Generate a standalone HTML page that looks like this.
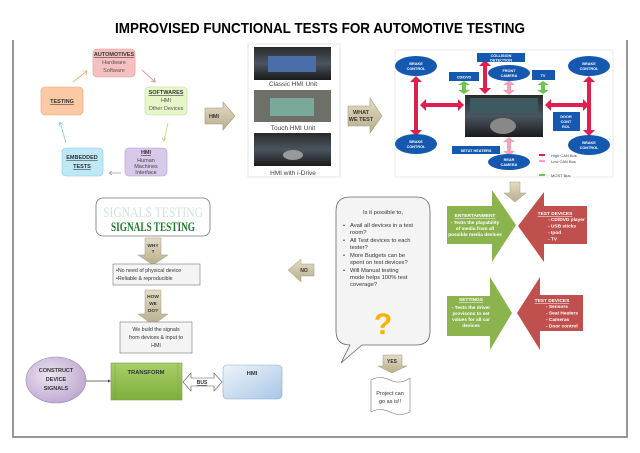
<!DOCTYPE html>
<html><head><meta charset="utf-8"><style>
body{margin:0;background:#fff;}
svg{display:block;font-family:"Liberation Sans",sans-serif;}
</style></head><body>
<svg width="640" height="453" viewBox="0 0 640 453" xmlns="http://www.w3.org/2000/svg">
<defs>
<linearGradient id="img" x1="0" y1="0" x2="0" y2="1"><stop offset="0" stop-color="#2a2a2a"/><stop offset="0.5" stop-color="#4a5560"/><stop offset="1" stop-color="#1a1a1a"/></linearGradient>
<linearGradient id="tan" x1="0" y1="0" x2="0" y2="1"><stop offset="0" stop-color="#e4dcc4"/><stop offset="1" stop-color="#b8ad8c"/></linearGradient>
<linearGradient id="grn" x1="0" y1="0" x2="0" y2="1"><stop offset="0" stop-color="#a8cf6a"/><stop offset="1" stop-color="#7fae3c"/></linearGradient>
<linearGradient id="blu" x1="0" y1="0" x2="1" y2="1"><stop offset="0" stop-color="#eef4fb"/><stop offset="1" stop-color="#a9c6e6"/></linearGradient>
<radialGradient id="pur" cx="0.4" cy="0.4" r="0.7"><stop offset="0" stop-color="#ece4f2"/><stop offset="1" stop-color="#b9a3cc"/></radialGradient>
</defs>
<!-- frame -->
<path d="M13 40 V437 H627 V40" fill="none" stroke="#777" stroke-width="1.5"/>
<text x="320" y="33" text-anchor="middle" font-weight="bold" font-size="15" textLength="410" lengthAdjust="spacingAndGlyphs">IMPROVISED FUNCTIONAL TESTS FOR AUTOMOTIVE TESTING</text>

<!-- cycle -->
<g font-size="5.5" text-anchor="middle">
<rect x="93" y="49" width="42" height="28" rx="4" fill="#f6c0c0" stroke="#e09898" stroke-width="0.6"/>
<text x="114" y="56" font-weight="bold" text-decoration="underline" fill="#333">AUTOMOTIVES</text>
<text x="114" y="64" fill="#555">Hardware</text><text x="114" y="72" fill="#555">Software</text>
<rect x="145" y="87" width="42" height="28" rx="4" fill="#e6f6c8" stroke="#c0dc98" stroke-width="0.6"/>
<text x="166" y="94" font-weight="bold" text-decoration="underline" fill="#333">SOFTWARES</text>
<text x="166" y="102" fill="#555">HMI</text><text x="166" y="110" fill="#555">Other Devices</text>
<rect x="41" y="87" width="42" height="28" rx="4" fill="#fbcaa4" stroke="#e6a478" stroke-width="0.6"/>
<text x="62" y="103" font-weight="bold" text-decoration="underline" fill="#333">TESTING</text>
<rect x="62" y="148" width="41" height="28" rx="4" fill="#bfe8f6" stroke="#88c8e0" stroke-width="0.6"/>
<text x="82" y="159" font-weight="bold" text-decoration="underline" fill="#333">EMBEDDED</text>
<text x="82" y="168" font-weight="bold" text-decoration="underline" fill="#333">TESTS</text>
<rect x="125" y="148" width="42" height="28" rx="4" fill="#d8c8ea" stroke="#b4a0d0" stroke-width="0.6"/>
<text x="146" y="154" font-weight="bold" text-decoration="underline" fill="#333">HMI</text>
<text x="146" y="162" fill="#444">Human</text><text x="146" y="168" fill="#444">Machines</text><text x="146" y="174" fill="#444">Interface</text>
</g>
<g stroke-width="0.8" fill="none">
<path d="M142 70 L155 82" stroke="#e07a7a"/><path d="M155 82 l-4 -0.5 M155 82 l-0.5 -4" stroke="#e07a7a"/>
<path d="M168 123 L164 141" stroke="#b8d878"/><path d="M164 141 l-2 -3 M164 141 l2 -3" stroke="#b8d878"/>
<path d="M121 173 L109 173" stroke="#a898d0"/><path d="M109 173 l3 -2 M109 173 l3 2" stroke="#a898d0"/>
<path d="M66 143 L60 122" stroke="#88c8e0"/><path d="M60 122 l-1 4 M60 122 l3 3" stroke="#88c8e0"/>
<path d="M73 82 L87 71" stroke="#f0a870"/><path d="M87 71 l-4 0 M87 71 l-1 4" stroke="#f0a870"/>
</g>

<!-- HMI arrow -->
<path d="M205 108 H223 V102 L235 116 L223 130 V124 H205 Z" fill="url(#tan)" stroke="#a09880" stroke-width="0.6"/>
<text x="214" y="118" font-size="5.5" font-weight="bold" text-anchor="middle" fill="#333">HMI</text>

<!-- HMI images panel -->
<rect x="248" y="44" width="92" height="133" fill="#fff" stroke="#e4e4e4"/>
<rect x="254" y="47" width="77" height="33" fill="url(#img)"/>
<rect x="268" y="56" width="48" height="16" fill="#4a6ea8"/>
<text x="293" y="86" font-size="6.5" text-anchor="middle" fill="#444">Classic HMI Unit</text>
<rect x="254" y="90" width="77" height="32" fill="#6c7068"/>
<rect x="270" y="98" width="44" height="18" fill="#7aa89a"/>
<text x="293" y="130" font-size="6.5" text-anchor="middle" fill="#444">Touch HMI Unit</text>
<rect x="254" y="133" width="77" height="33" fill="url(#img)"/>
<ellipse cx="293" cy="155" rx="10" ry="5" fill="#999"/>
<text x="293" y="175" font-size="6.5" text-anchor="middle" fill="#444">HMI with i-Drive</text>

<!-- WHAT WE TEST arrow -->
<path d="M348 106 H370 V98 L382 116 L370 133 V126 H348 Z" fill="url(#tan)" stroke="#a09880" stroke-width="0.6"/>
<text x="361" y="114" font-size="5.5" font-weight="bold" text-anchor="middle" fill="#333">WHAT</text>
<text x="361" y="121" font-size="5.5" font-weight="bold" text-anchor="middle" fill="#333">WE TEST</text>

<!-- car network panel -->
<rect x="395" y="50" width="218" height="127" fill="#fff" stroke="#e8e8e8"/>
<rect x="465" y="95" width="78" height="42" fill="url(#img)"/>
<rect x="470" y="98" width="68" height="15" fill="#3c5a60"/>
<ellipse cx="503" cy="126" rx="13" ry="8" fill="#888"/>
<g fill="#e01f4f">
<rect x="414" y="82" width="4" height="48"/><path d="M410 82 L416 76 L422 82 Z M410 130 L416 136 L422 130 Z"/>
<rect x="587" y="82" width="4" height="48"/><path d="M583 82 L589 76 L595 82 Z M583 130 L589 136 L595 130 Z"/>
<rect x="426" y="103" width="32" height="4"/><path d="M426 99 L420 105 L426 111 Z M458 99 L464 105 L458 111 Z"/>
<rect x="551" y="103" width="32" height="4"/><path d="M551 99 L545 105 L551 111 Z M583 99 L589 105 L583 111 Z"/>
<rect x="483" y="64" width="4" height="25"/><path d="M479 66 L485 60 L491 66 Z M479 88 L485 94 L491 88 Z"/>
<rect x="539" y="154" width="6" height="2"/>
</g>
<g fill="#f4a0b8">
<rect x="507" y="84" width="4" height="7"/><path d="M503 85 L509 80 L515 85 Z M503 90 L509 95 L515 90 Z"/>
<rect x="507" y="141" width="4" height="11"/><path d="M503 142 L509 137 L515 142 Z M503 151 L509 156 L515 151 Z"/>
<rect x="539" y="160" width="6" height="2"/>
</g>
<g fill="#6cc84a">
<rect x="462" y="84" width="4" height="7"/><path d="M458 85 L464 81 L470 85 Z M458 90 L464 94 L470 90 Z"/>
<rect x="541" y="84" width="4" height="7"/><path d="M537 85 L543 81 L549 85 Z M537 90 L543 94 L549 90 Z"/>
<rect x="539" y="174" width="6" height="2"/>
</g>
<g fill="#1558b0">
<ellipse cx="416" cy="66" rx="21" ry="10"/><ellipse cx="589" cy="66" rx="21" ry="10"/>
<ellipse cx="416" cy="144" rx="21" ry="10"/><ellipse cx="589" cy="145" rx="21" ry="10"/>
<ellipse cx="509" cy="73" rx="21" ry="8"/><ellipse cx="509" cy="162" rx="21" ry="8"/>
<rect x="477" y="53" width="48" height="9"/><rect x="449" y="72" width="30" height="9"/>
<rect x="532" y="70" width="23" height="10"/><rect x="553" y="112" width="27" height="19"/>
<rect x="452" y="146" width="48" height="8"/>
</g>
<g fill="#fff" font-size="3.8" font-weight="bold" text-anchor="middle">
<text x="416" y="65">BRAKE</text><text x="416" y="70">CONTROL</text>
<text x="589" y="65">BRAKE</text><text x="589" y="70">CONTROL</text>
<text x="416" y="143">BRAKE</text><text x="416" y="148">CONTROL</text>
<text x="589" y="144">BRAKE</text><text x="589" y="149">CONTROL</text>
<text x="501" y="57">COLLISION</text><text x="501" y="61.5">DETECTION</text>
<text x="509" y="72">FRONT</text><text x="509" y="77">CAMERA</text>
<text x="509" y="161">REAR</text><text x="509" y="166">CAMERA</text>
<text x="464" y="78.5">CD/DVD</text><text x="543" y="77">TV</text>
<text x="566" y="118">DOOR</text><text x="566" y="123">CONT</text><text x="566" y="128">ROL</text>
<text x="476" y="152">SETAT HEATERS</text>
<text x="441" y="103">BUS</text><text x="567" y="103">BUS</text>
</g>
<g font-size="4" fill="#444"><text x="551" y="157">High CAN Bus</text><text x="551" y="163">Low CAN Bus</text><text x="551" y="177">MOST Bus</text></g>

<!-- down arrow -->
<path d="M510 182 H520 V193 H526 L515 202 L504 193 H510 Z" fill="url(#tan)" stroke="#a09880" stroke-width="0.5"/>

<!-- green/red arrows -->
<path d="M447 206 H492 V190 L516 225 L492 262 V244 H447 Z" fill="#8cb44e"/>
<path d="M587 206 H544 V192 L518 226 L544 262 V244 H587 Z" fill="#c0504d"/>
<path d="M447 296 H490 V277 L512 313 L490 350 V336 H447 Z" fill="#8cb44e"/>
<path d="M583 295 H540 V277 L517 313 L540 350 V331 H583 Z" fill="#c0504d"/>
<g fill="#fff" font-size="4.8" font-weight="bold">
<g text-anchor="middle">
<text x="475" y="217" text-decoration="underline">ENTERTAINMENT</text>
<text x="475" y="224">- Tests the playability</text><text x="475" y="230">of media from all</text><text x="475" y="236">possible media devices</text>
<text x="471" y="301" text-decoration="underline">SETTINGS</text>
<text x="471" y="309">- Tests the driver</text><text x="471" y="315">provisons to set</text><text x="471" y="321">values for all car</text><text x="471" y="327">devices</text>
<text x="555" y="215" text-decoration="underline">TEST DEVICES</text>
<text x="552" y="302" text-decoration="underline">TEST DEVICES</text>
</g>
<text x="548" y="221">- CD/DVD player</text><text x="548" y="227.5">- USB sticks</text><text x="548" y="234">- Ipod</text><text x="548" y="240.5">- TV</text>
<text x="546" y="308">- Sensors</text><text x="546" y="314.5">- Seat Heaters</text><text x="546" y="321">- Cameras</text><text x="546" y="327.5">- Door control</text>
</g>

<!-- speech bubble -->
<path d="M350 197 H416 Q430 197 430 211 V331 Q430 345 416 345 H362 L341 363 L350 345 Q336 345 336 331 V211 Q336 197 350 197 Z" fill="#f4f4f4" stroke="#666" stroke-width="0.8"/>
<g font-size="5.8" fill="#333">
<text x="383" y="214" text-anchor="middle">Is it possible to,</text>
<text x="343" y="227">•</text><text x="350" y="227">Avail all devices in a test</text><text x="350" y="234">room?</text>
<text x="343" y="242">•</text><text x="350" y="242">All Test devices to each</text><text x="350" y="249">tester?</text>
<text x="343" y="257">•</text><text x="350" y="257">More Budgets can be</text><text x="350" y="264">spent on test devices?</text>
<text x="343" y="272">•</text><text x="350" y="272">Will Manual testing</text><text x="350" y="279">mode helps 100% test</text><text x="350" y="286">coverage?</text>
</g>
<text x="383" y="334" font-size="30" font-weight="bold" fill="#f5b400" text-anchor="middle">?</text>

<!-- NO arrow -->
<path d="M314 264 H301 V259 L288 270 L301 282 V276 H314 Z" fill="url(#tan)" stroke="#a09880" stroke-width="0.5"/>
<text x="304" y="272" font-size="5" font-weight="bold" text-anchor="middle" fill="#333">NO</text>
<!-- YES arrow -->
<path d="M383 355 H402 V366 H407 L392 373 L378 366 H383 Z" fill="url(#tan)" stroke="#a09880" stroke-width="0.5"/>
<text x="392" y="363" font-size="5" font-weight="bold" text-anchor="middle" fill="#333">YES</text>
<!-- document -->
<path d="M371 380 Q380 375 390 380 T410 378 V412 Q400 417 390 412 T371 412 Z" fill="#fff" stroke="#777" stroke-width="0.6"/>
<text x="390" y="395" font-size="5.5" text-anchor="middle" fill="#333">Project can</text>
<text x="390" y="403" font-size="5.5" text-anchor="middle" fill="#333">go as is!!</text>

<!-- signals testing -->
<rect x="96" y="198" width="114" height="38" rx="7" fill="#fff" stroke="#777" stroke-width="0.8"/>
<text x="153" y="217" font-family="'Liberation Serif',serif" font-size="15" fill="#d0e4dc" text-anchor="middle" textLength="100" lengthAdjust="spacingAndGlyphs">SIGNALS TESTING</text>
<text x="153" y="231" font-family="'Liberation Serif',serif" font-size="13" font-weight="bold" fill="#1a7a2a" text-anchor="middle" textLength="84" lengthAdjust="spacingAndGlyphs">SIGNALS TESTING</text>
<path d="M145 238 H161 V255 H168 L153 265 L138 255 H145 Z" fill="url(#tan)" stroke="#a09880" stroke-width="0.5"/>
<text x="153" y="247" font-size="4.8" font-weight="bold" text-anchor="middle" fill="#333">WHY</text>
<text x="153" y="253" font-size="4.8" font-weight="bold" text-anchor="middle" fill="#333">?</text>
<rect x="113" y="264" width="87" height="21" fill="#f4f4f4" stroke="#777" stroke-width="0.6"/>
<text x="116" y="272" font-size="5.3" fill="#333">•No need of physical device</text>
<text x="116" y="280" font-size="5.3" fill="#333">•Reliable &amp; reproducible</text>
<path d="M145 290 H161 V314 H168 L153 325 L138 314 H145 Z" fill="url(#tan)" stroke="#a09880" stroke-width="0.5"/>
<text x="153" y="298" font-size="4.8" font-weight="bold" text-anchor="middle" fill="#333">HOW</text>
<text x="153" y="305" font-size="4.8" font-weight="bold" text-anchor="middle" fill="#333">WE</text>
<text x="153" y="312" font-size="4.8" font-weight="bold" text-anchor="middle" fill="#333">DO?</text>
<rect x="120" y="322" width="72" height="31" fill="#f4f4f4" stroke="#777" stroke-width="0.6"/>
<g font-size="5.3" fill="#333" text-anchor="middle"><text x="156" y="331">We build the signals</text><text x="156" y="339">from devices &amp; input to</text><text x="156" y="347">HMI</text></g>

<ellipse cx="56" cy="380" rx="30" ry="23" fill="url(#pur)" stroke="#9a88b0" stroke-width="0.6"/>
<g font-size="5.5" font-weight="bold" fill="#333" text-anchor="middle"><text x="56" y="372">CONSTRUCT</text><text x="56" y="381">DEVICE</text><text x="56" y="390">SIGNALS</text></g>
<path d="M86 381 H109" stroke="#444" stroke-width="0.7"/><path d="M111 381 l-3 -1.5 v3 Z" fill="#444"/>
<rect x="111" y="363" width="71" height="37" fill="url(#grn)" stroke="#7a9a48" stroke-width="0.6"/>
<line x1="115" y1="363" x2="115" y2="400" stroke="#7a9a48" stroke-width="0.5"/><line x1="178" y1="363" x2="178" y2="400" stroke="#7a9a48" stroke-width="0.5"/>
<text x="146" y="374" font-size="5.8" font-weight="bold" text-anchor="middle" fill="#333">TRANSFORM</text>
<path d="M183 382 L191 373 V378 H214 V373 L222 382 L214 391 V386 H191 V391 Z" fill="#fff" stroke="#555" stroke-width="0.6"/>
<text x="202" y="384" font-size="5" font-weight="bold" text-anchor="middle" fill="#333" text-decoration="underline">BUS</text>
<rect x="223" y="365" width="59" height="34" rx="4" fill="url(#blu)" stroke="#8aaad0" stroke-width="0.6"/>
<text x="252" y="375" font-size="5.8" font-weight="bold" text-anchor="middle" fill="#333">HMI</text>
</svg>
</body></html>
